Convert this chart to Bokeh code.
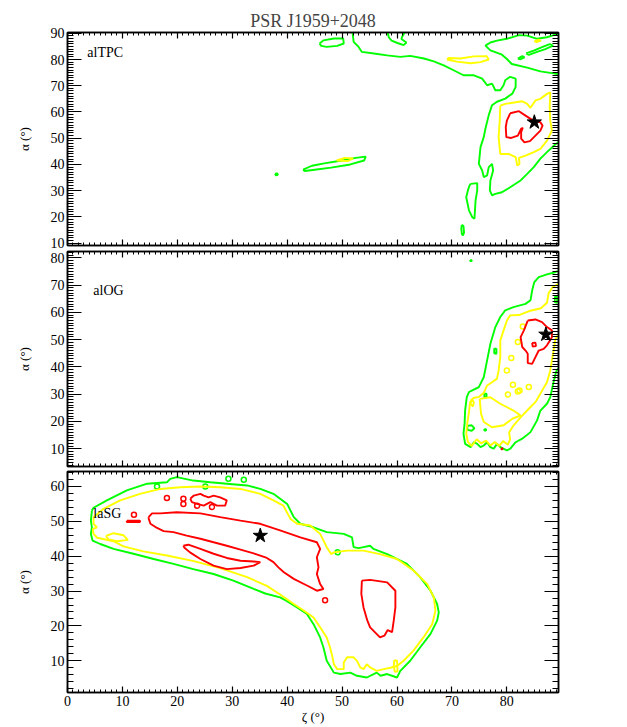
from bokeh.plotting import figure
from bokeh.models import LinearAxis, SingleIntervalTicker, Range1d, Label, CustomJSTickFormatter
from bokeh.layouts import column
from bokeh.embed import file_html
from bokeh.resources import INLINE

FONT = "Liberation Serif"
GREEN, YELLOW, RED = "#00ff00", "#ffff00", "#ff0000"

TITLE = "PSR J1959+2048"
X_LABEL = "ζ (°)"
Y_LABEL = "α (°)"
ZETA_RANGE = (0, 89.4)

# ---------------- panel 1 : alTPC ----------------
TPC_NAME = "alTPC"
TPC_ALPHA_RANGE = (9.1, 90.3)
TPC_BEST = (85.0, 56.1)
TPC_GREEN_MAIN = [(51.9, 90.3), (52.1, 86.7), (53.0, 84.8), (53.6, 82.9), (55.8, 82.3), (58.2, 81.6), (60.6, 81.0),
                  (62.4, 81.4), (64.9, 80.4), (66.7, 79.3), (68.5, 77.8), (70.3, 75.9), (72.1, 74.0), (74.0, 74.0),
                  (75.5, 72.7), (76.4, 70.2), (77.3, 70.8), (77.9, 68.3), (78.8, 68.3), (79.4, 70.2), (79.7, 72.1),
                  (80.6, 73.4), (81.6, 72.7), (81.6, 69.6), (81.0, 67.0), (79.7, 65.1), (78.2, 63.9), (77.3, 62.6),
                  (76.7, 58.8), (76.1, 53.7), (75.8, 50.5), (75.2, 46.6), (74.9, 40.2), (75.5, 37.7), (75.8, 35.2),
                  (76.4, 35.8), (76.7, 39.0), (77.3, 40.2), (77.5, 37.7), (77.0, 33.9), (76.9, 30.1), (77.3, 28.2),
                  (77.9, 28.8), (79.1, 29.4), (80.6, 31.3), (82.5, 33.9), (83.7, 36.4), (84.9, 39.0), (86.1, 42.2),
                  (87.3, 44.7), (88.8, 47.6), (89.4, 48.5)]
TPC_GREEN_TOPRIGHT = [(89.4, 74.5), (88.8, 74.6), (86.1, 75.5), (83.7, 76.9), (80.9, 78.3), (80.0, 80.2), (79.0, 82.0),
                      (77.0, 83.5), (76.1, 85.3), (77.0, 86.5), (78.2, 87.2), (80.0, 87.9), (82.2, 89.3), (83.7, 89.1),
                      (85.5, 87.9), (87.3, 88.5), (88.8, 89.5), (89.4, 89.6)]
TPC_GREEN_LOOPS = [
    [(45.9, 86.1), (46.6, 87.3), (48.5, 88.0), (50.2, 88.0), (50.3, 86.1), (49.1, 85.2), (47.2, 84.8), (46.2, 85.2)],
    [(83.5, 82.3), (85.0, 83.5), (86.5, 84.8), (87.8, 85.9), (88.4, 85.3), (87.0, 84.0), (85.5, 82.9), (84.0, 81.8)],
    [(82.0, 80.4), (82.8, 81.3), (83.2, 80.8), (82.5, 80.1)],
    [(42.9, 38.0), (44.5, 39.5), (47.0, 40.5), (50.0, 41.5), (52.5, 42.5), (54.3, 43.0), (54.0, 41.5), (51.5, 40.0),
     (48.0, 38.8), (45.0, 38.0), (43.2, 37.5)],
    [(73.4, 32.6), (74.6, 32.9), (74.6, 30.1), (74.3, 26.3), (74.1, 19.3), (73.7, 19.9), (73.1, 22.5), (72.6, 27.5),
     (72.9, 30.1), (73.2, 32.0)],
    [(71.8, 17.0), (72.1, 16.5), (72.2, 14.0), (72.0, 12.9), (71.8, 13.5), (71.7, 15.5)],
    [(37.8, 36.5), (38.2, 36.6), (38.3, 36.0), (37.9, 35.9)],
]
TPC_GREEN_OPEN = [[(58.3, 90.3), (58.5, 88.5), (59.0, 87.2), (60.2, 86.2), (61.2, 85.5), (61.7, 86.5), (60.8, 87.8),
                   (61.0, 89.0), (61.4, 90.3)]]
TPC_YELLOW_LOOPS = [
    [(78.8, 62.4), (78.7, 56.7), (78.5, 50.4), (78.8, 44.0), (80.3, 44.0), (81.6, 42.8), (81.9, 39.6), (82.3, 40.2),
     (82.2, 42.5), (83.4, 43.4), (84.9, 44.7), (86.1, 45.9), (87.3, 49.1), (88.2, 52.9), (87.9, 56.7), (87.8, 61.8),
     (87.9, 67.5), (87.3, 66.9), (86.1, 65.0), (85.2, 64.4), (84.3, 61.6), (83.7, 63.1), (82.8, 64.1), (81.6, 63.7),
     (79.7, 63.1)],
    [(69.1, 80.0), (70.9, 79.2), (73.4, 78.6), (75.2, 79.0), (76.7, 80.0), (76.3, 81.3), (74.0, 81.2), (71.5, 80.4),
     (69.4, 80.6)],
    [(85.0, 87.0), (85.8, 87.6), (86.2, 87.2), (85.4, 86.6)],
    [(49.0, 41.5), (50.5, 42.5), (52.0, 42.3), (51.0, 41.3)],
]
TPC_RED_LOOPS = [
    [(80.6, 59.5), (82.2, 60.3), (83.4, 58.6), (84.6, 57.0), (86.1, 56.1), (86.5, 54.8), (86.1, 52.9), (85.2, 51.0),
     (84.2, 48.9), (83.2, 48.4), (82.6, 49.8), (82.6, 52.3), (82.9, 54.0), (82.6, 53.6), (82.0, 51.0), (80.8, 50.1),
     (79.9, 50.4), (79.8, 54.2), (80.0, 56.7)],
]

# ---------------- panel 2 : alOG ----------------
OG_NAME = "alOG"
OG_ALPHA_RANGE = (3.5, 82.3)
OG_BEST = (87.1, 51.9)
OG_GREEN_OPEN = [[(89.4, 75.2), (88.8, 74.7), (87.3, 73.9), (85.8, 72.9), (85.0, 71.1), (84.6, 68.0), (84.3, 64.4),
                  (83.4, 63.1), (81.2, 61.9), (79.7, 60.7), (78.8, 58.3), (77.9, 54.6), (77.0, 48.5), (76.4, 42.4),
                  (75.8, 36.3), (74.9, 32.6), (73.7, 31.4), (73.1, 30.8), (72.7, 28.9), (72.4, 24.1), (72.3, 19.2),
                  (72.1, 15.5), (72.4, 11.8), (73.4, 10.6), (74.0, 12.4), (74.6, 11.8), (75.2, 10.6), (75.8, 11.2),
                  (76.4, 12.4), (77.0, 10.6), (77.6, 10.0), (78.2, 11.8), (78.8, 10.6), (80.0, 9.4), (80.6, 10.0),
                  (81.6, 12.4), (82.8, 13.7), (84.3, 16.1), (85.5, 20.4), (86.1, 24.0), (87.3, 26.5), (87.9, 28.9),
                  (88.5, 34.5), (89.0, 38.5), (89.4, 39.5)]]
OG_GREEN_LOOPS = [
    [(88.8, 66.0), (89.2, 65.5), (89.1, 63.5), (88.7, 63.8)],
    [(77.7, 46.8), (78.1, 46.6), (78.1, 44.8), (77.7, 45.0)],
    [(73.3, 79.1), (73.6, 79.1), (73.6, 78.8), (73.3, 78.8)],
    [(75.9, 30.2), (76.3, 30.2), (76.3, 28.9), (75.9, 28.9)],
    [(72.8, 18.4), (73.6, 18.6), (74.1, 17.5), (73.6, 16.6), (72.8, 16.9)],
    [(75.9, 17.2), (76.2, 17.2), (76.2, 16.7), (75.9, 16.7)],
]
OG_YELLOW_OPEN = [[(89.4, 70.5), (88.3, 69.2), (87.6, 67.0), (87.3, 63.5), (86.2, 61.5), (84.3, 60.6), (82.2, 59.0),
                   (80.6, 58.9), (80.0, 57.0), (79.4, 53.4), (78.8, 49.7), (78.8, 43.6), (78.5, 38.7), (78.2, 35.7),
                   (77.3, 34.4), (76.4, 33.2), (75.8, 30.5), (74.9, 29.0), (73.9, 28.6), (73.3, 27.0), (73.1, 23.5),
                   (72.8, 19.5), (72.6, 15.5), (72.9, 12.5), (73.6, 11.0), (74.5, 13.5), (75.3, 12.0), (76.2, 13.0),
                   (77.0, 11.2), (77.8, 12.5), (78.6, 11.0), (79.3, 12.8), (80.2, 11.5), (80.6, 13.5), (80.4, 16.0),
                   (81.2, 18.5), (82.5, 21.5), (84.3, 25.3), (85.2, 27.1), (86.1, 30.2), (87.3, 34.4), (87.9, 38.7),
                   (88.2, 42.4), (88.5, 46.0), (88.8, 50.0), (89.4, 52.0)]]
OG_YELLOW_LOOPS = [
    [(75.05, 28.3), (77.0, 28.9), (78.8, 26.5), (81.2, 24.0), (82.5, 22.2), (81.0, 21.0), (79.4, 18.6), (77.3, 17.9),
     (75.8, 19.8), (75.3, 22.8)],
    [(73.6, 28.3), (74.0, 27.0), (73.8, 25.5), (73.4, 26.5)],
]
OG_YELLOW_DOTS = [(82.9, 54.8), (82.0, 49.1), (80.8, 43.3), (80.0, 38.7), (81.1, 33.5), (82.3, 31.4), (84.0, 32.6),
                  (80.2, 29.9), (82.0, 31.0)]
OG_RED_LOOPS = [
    [(83.8, 57.0), (85.2, 57.4), (86.4, 56.4), (87.3, 54.6), (88.2, 53.4), (88.2, 50.9), (87.3, 47.9), (86.7, 46.6),
     (85.8, 46.0), (85.2, 43.6), (84.6, 41.1), (83.8, 41.4), (83.8, 44.8), (83.4, 46.0), (82.8, 47.3), (82.5, 50.9),
     (83.1, 53.4)],
    [(84.6, 48.8), (85.2, 48.9), (85.3, 47.6), (84.7, 47.5)],
    [(79.0, 10.2), (79.2, 10.2), (79.2, 9.8), (79.0, 9.8)],
]

# ---------------- panel 3 : laSG ----------------
SG_NAME = "laSG"
SG_ALPHA_RANGE = (0.9, 64.3)
SG_BEST = (35.1, 45.9)
SG_GREEN_LOOPS = [
    [(4.44, 53.1), (4.74, 53.9), (7.17, 56.0), (10.8, 58.9), (14.5, 60.8), (18.1, 61.2), (18.7, 62.2), (19.9, 62.7),
     (22.9, 61.7), (26.0, 61.2), (29.0, 60.8), (32.7, 60.3), (35.1, 59.3), (37.5, 57.9), (40.0, 55.0), (41.2, 51.2),
     (42.4, 49.3), (44.8, 48.3), (47.2, 46.9), (50.3, 46.4), (51.8, 45.4), (52.1, 42.6), (53.0, 42.3), (53.9, 42.6),
     (55.1, 43.0), (55.7, 42.1), (58.2, 40.6), (61.8, 37.8), (64.2, 34.0), (66.1, 30.1), (67.3, 26.3), (67.6, 23.9),
     (67.3, 21.5), (66.1, 17.7), (64.2, 13.8), (62.4, 10.0), (60.6, 7.1), (60.0, 5.2), (58.2, 6.2), (57.0, 5.7),
     (56.3, 6.6), (54.5, 5.2), (52.7, 5.7), (51.5, 6.6), (49.7, 6.2), (48.5, 6.6), (47.2, 10.0), (46.6, 13.8),
     (46.0, 16.7), (44.8, 20.5), (43.6, 23.4), (41.8, 25.3), (39.9, 27.2), (38.7, 28.2), (36.0, 29.3), (33.9, 30.6),
     (30.2, 33.0), (26.6, 34.9), (22.9, 36.3), (19.3, 37.8), (15.7, 39.2), (12.0, 40.7), (8.38, 42.1), (5.96, 43.5),
     (4.56, 44.5), (4.26, 46.4), (4.44, 48.3), (4.26, 50.2)],
]
SG_GREEN_DOTS = [(16.3, 60.0), (25.1, 60.0), (29.3, 62.2), (32.1, 61.9), (49.2, 41.1)]
SG_YELLOW_LOOPS = [
    [(4.74, 51.2), (6.56, 53.6), (9.6, 56.0), (13.2, 57.9), (16.9, 59.3), (20.5, 59.8), (24.2, 60.0), (27.8, 59.8),
     (31.5, 59.3), (35.1, 57.9), (37.5, 56.0), (39.3, 54.5), (40.6, 50.7), (41.8, 49.3), (44.2, 48.8), (46.0, 46.4),
     (47.2, 42.6), (48.0, 40.6), (48.5, 41.1), (50.9, 41.6), (53.9, 41.6), (56.9, 40.6), (60.0, 39.2), (63.0, 35.9),
     (65.5, 32.0), (66.7, 28.2), (67.0, 24.4), (66.4, 20.5), (64.8, 16.7), (63.0, 12.9), (61.2, 10.0), (60.0, 8.5),
     (58.8, 8.0), (57.6, 7.6), (56.3, 7.1), (55.1, 8.1), (54.5, 9.0), (53.9, 7.6), (53.3, 8.1), (52.7, 10.0),
     (52.1, 11.0), (50.9, 11.0), (50.3, 9.5), (50.3, 7.6), (49.1, 7.6), (48.5, 9.0), (48.2, 11.4), (47.8, 13.8),
     (47.2, 16.7), (46.0, 19.6), (44.8, 22.4), (43.0, 24.4), (41.2, 26.3), (38.7, 29.0), (36.3, 31.5), (32.7, 34.0),
     (27.8, 36.6), (23.0, 38.6), (18.1, 40.2), (13.8, 41.4), (10.2, 42.8), (8.4, 44.3), (6.9, 44.8), (5.4, 45.3),
     (4.74, 46.4), (4.6, 47.8), (5.35, 48.3), (4.74, 49.3)],
    [(59.5, 10.2), (60.0, 10.0), (60.1, 7.0), (59.6, 6.8), (59.4, 8.5)],
    [(7.0, 45.8), (8.4, 46.6), (10.2, 46.0), (11.0, 44.7), (9.0, 44.3), (7.5, 44.8)],
]
SG_RED_LOOPS = [
    [(14.76, 51.2), (15.4, 52.3), (16.9, 52.3), (19.9, 52.6), (24.2, 52.3), (27.8, 51.2), (31.5, 50.2), (35.1, 49.3),
     (38.7, 47.4), (42.4, 45.4), (45.4, 44.0), (46.0, 42.1), (45.4, 39.7), (45.7, 36.8), (45.4, 34.9), (46.0, 32.0),
     (46.6, 30.6), (45.4, 30.1), (43.6, 31.6), (41.2, 33.5), (39.4, 35.4), (38.4, 36.8), (37.5, 38.3), (36.3, 39.5),
     (33.9, 40.8), (31.5, 41.9), (29.0, 43.0), (26.6, 44.0), (24.2, 45.0), (21.7, 45.9), (19.3, 46.9), (17.5, 47.2),
     (16.3, 48.1), (15.1, 49.3), (14.8, 50.7)],
    [(21.1, 43.0), (22.0, 43.3), (24.2, 42.1), (26.6, 40.7), (29.0, 39.5), (31.5, 38.7), (33.9, 38.5), (35.1, 38.3),
     (33.9, 37.3), (31.5, 36.6), (29.0, 36.3), (26.6, 37.3), (24.2, 39.2), (22.3, 41.1), (21.3, 42.4)],
    [(53.6, 33.0), (55.1, 33.2), (58.2, 32.5), (59.7, 30.1), (59.7, 25.3), (59.4, 21.5), (59.1, 18.2), (58.3, 18.8),
     (57.7, 17.2), (56.9, 16.7), (55.1, 19.6), (54.6, 21.5), (53.9, 25.3), (53.5, 29.2)],
    [(22.35, 56.5), (23.0, 57.4), (24.2, 57.9), (24.8, 57.4), (25.7, 56.9), (26.6, 57.4), (27.8, 56.9), (29.0, 56.0),
     (28.7, 54.5), (27.2, 54.5), (26.0, 55.5), (25.4, 55.0), (24.8, 54.5), (23.6, 55.0), (22.65, 55.5)],
    [(10.8, 50.2), (13.2, 50.2), (13.2, 49.8), (10.8, 49.8)],
]
SG_RED_DOTS = [(21.1, 56.5), (21.1, 55.0), (18.1, 56.7), (23.6, 54.5), (26.3, 54.1), (46.9, 27.4), (12.1, 51.9)]


def split(loops, closed):
    xs, ys = [], []
    for pts in loops:
        pts = list(pts) + ([pts[0]] if closed else [])
        xs.append([q[0] for q in pts])
        ys.append([q[1] for q in pts])
    return xs, ys


def make_axis(labels, tick_in, minor_in, ticker):
    ax = LinearAxis(ticker=ticker)
    ax.major_tick_in = tick_in
    ax.major_tick_out = 0
    ax.minor_tick_in = minor_in
    ax.minor_tick_out = 0
    ax.axis_line_width = 1.5
    ax.major_tick_line_width = 1.2
    ax.minor_tick_line_width = 1
    if labels:
        ax.major_label_text_font = FONT
        ax.major_label_text_font_size = "14px"
        ax.major_label_text_color = "black"
        ax.major_label_standoff = 3
    else:
        ax.formatter = CustomJSTickFormatter(code="return ''")
        ax.major_label_standoff = 0
    return ax


def style_label(ax, text, standoff):
    ax.axis_label = text
    ax.axis_label_text_font = FONT
    ax.axis_label_text_font_size = "13px"
    ax.axis_label_text_font_style = "normal"
    ax.axis_label_text_color = "black"
    ax.axis_label_standoff = standoff


def make_panel(name, yr, minor, best, green, yellow, red, label_at, frame_h, top, bottom, xlabels):
    p = figure(frame_width=491, frame_height=frame_h, x_range=Range1d(*ZETA_RANGE), y_range=Range1d(*yr),
               output_backend="svg", toolbar_location=None, x_axis_location=None, y_axis_location=None,
               min_border_left=67, min_border_right=20, min_border_top=top, min_border_bottom=bottom)
    p.outline_line_color = "black"
    p.outline_line_width = 1.5
    p.grid.visible = False
    p.background_fill_color = "white"
    p.border_fill_color = "white"

    xt = lambda: SingleIntervalTicker(interval=10, num_minor_ticks=10)
    yt = lambda: SingleIntervalTicker(interval=10, num_minor_ticks=minor)
    bx = make_axis(xlabels, 6, 3, xt())
    if xlabels:
        style_label(bx, X_LABEL, 0)
    p.add_layout(bx, "below")
    p.add_layout(make_axis(False, 6, 3, xt()), "above")
    ly = make_axis(True, 14, 6, yt())
    style_label(ly, Y_LABEL, 16)
    p.add_layout(ly, "left")
    p.add_layout(make_axis(False, 14, 6, yt()), "right")

    for loops_open, loops_closed, dots, col in [green, yellow, red]:
        if loops_closed:
            xs, ys = split(loops_closed, True)
            p.multi_line(xs, ys, line_color=col, line_width=1.9)
        if loops_open:
            xs, ys = split(loops_open, False)
            p.multi_line(xs, ys, line_color=col, line_width=1.9)
        if dots:
            p.scatter([d[0] for d in dots], [d[1] for d in dots], marker="circle", size=5,
                      fill_color=None, line_color=col, line_width=1.5)

    p.scatter([best[0]], [best[1]], marker="star", size=15, color="black")
    p.add_layout(Label(x=label_at[0], y=label_at[1], text=name, text_font=FONT, text_font_size="14px",
                       text_baseline="middle", text_align="left", text_color="black"))
    return p


p1 = make_panel(TPC_NAME, TPC_ALPHA_RANGE, 10, TPC_BEST,
                (TPC_GREEN_OPEN + [TPC_GREEN_MAIN, TPC_GREEN_TOPRIGHT], TPC_GREEN_LOOPS, None, GREEN),
                (None, TPC_YELLOW_LOOPS, None, YELLOW),
                (None, TPC_RED_LOOPS, None, RED),
                (3.6, 82.6), 213, 32, 5, False)
p1.title.text = TITLE
p1.title.align = "center"
p1.title.text_font = FONT
p1.title.text_font_size = "18px"
p1.title.text_font_style = "normal"
p1.title.standoff = 4

p2 = make_panel(OG_NAME, OG_ALPHA_RANGE, 10, OG_BEST,
                (OG_GREEN_OPEN, OG_GREEN_LOOPS, None, GREEN),
                (OG_YELLOW_OPEN, OG_YELLOW_LOOPS, OG_YELLOW_DOTS, YELLOW),
                (None, OG_RED_LOOPS, None, RED),
                (4.7, 68.0), 215, 1, 2, False)

p3 = make_panel(SG_NAME, SG_ALPHA_RANGE, 5, SG_BEST,
                (None, SG_GREEN_LOOPS, SG_GREEN_DOTS, GREEN),
                (None, SG_YELLOW_LOOPS, None, YELLOW),
                (None, SG_RED_LOOPS, SG_RED_DOTS, RED),
                (4.7, 52.2), 221, 3, 33, True)

layout = column(p1, p2, p3, spacing=0)
open("out.html", "w").write(file_html(layout, INLINE))
